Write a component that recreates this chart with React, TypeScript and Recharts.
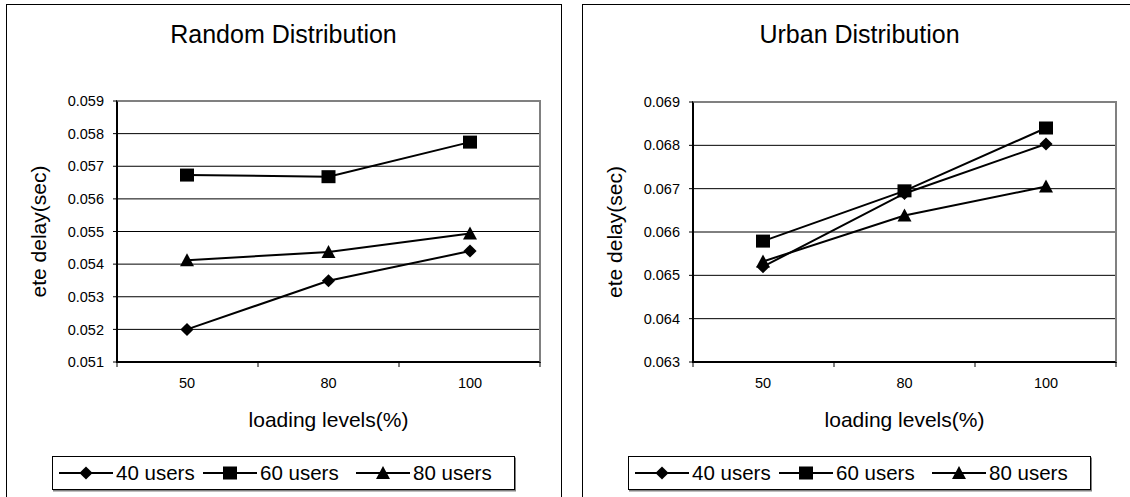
import React from 'react'
import { LineChart, Line, XAxis, YAxis, CartesianGrid } from 'recharts'

// categories and series
const loads = ['50', '80', '100']

const random40 = [0.0520, 0.05349, 0.0544]
const random60 = [0.05673, 0.05668, 0.05774]
const random80 = [0.05412, 0.05437, 0.05494]

const urban40 = [0.0652, 0.06689, 0.06803]
const urban60 = [0.06579, 0.06695, 0.0684]
const urban80 = [0.06532, 0.06638, 0.06705]

const randomTicks = [0.051, 0.052, 0.053, 0.054, 0.055, 0.056, 0.057, 0.058, 0.059]
const urbanTicks = [0.063, 0.064, 0.065, 0.066, 0.067, 0.068, 0.069]

const seriesNames = ['40 users', '60 users', '80 users']

const FONT = '"Liberation Sans", Arial, sans-serif'
const PANEL_W = 555
const CHART_H = 493
const Y_AXIS_W = 111
const M_RIGHT = 21
const M_BOTTOM = 100
const X_AXIS_H = 35

type Shape = 'diamond' | 'square' | 'triangle'

function Marker({ cx, cy, shape }: { cx: number; cy: number; shape: Shape }) {
  if (shape === 'square') {
    return <rect x={cx - 7} y={cy - 6.5} width={14} height={13} fill="#000" />
  }
  if (shape === 'triangle') {
    return <path d={`M${cx},${cy - 7} L${cx + 7},${cy + 6} L${cx - 7},${cy + 6} Z`} fill="#000" />
  }
  return <path d={`M${cx},${cy - 6.5} L${cx + 6.6},${cy} L${cx},${cy + 6.5} L${cx - 6.6},${cy} Z`} fill="#000" />
}

const dotFor = (shape: Shape) => (props: any) => {
  const { cx, cy, index } = props
  return <Marker key={`${shape}-${index}`} cx={cx} cy={cy} shape={shape} />
}

const shapes: Shape[] = ['diamond', 'square', 'triangle']

// plot frame and axis tick marks laid over the chart, from the same layout numbers
function Frame({ top, yTicks }: { top: number; yTicks: number[] }) {
  const pl = Y_AXIS_W
  const pr = PANEL_W - M_RIGHT
  const pb = CHART_H - M_BOTTOM - X_AXIS_H
  const lo = yTicks[0]
  const hi = yTicks[yTicks.length - 1]
  const yOf = (v: number) => top + ((hi - v) / (hi - lo)) * (pb - top)
  const edges = [0, 1, 2, 3].map((i) => pl + (i * (pr - pl)) / 3)
  return (
    <>
      <div
        style={{
          position: 'absolute',
          left: pl - 1,
          top: top - 1,
          width: pr - pl + 2,
          height: pb - top + 2,
          boxSizing: 'border-box',
          borderTop: '2px solid #808080',
          borderRight: '2px solid #808080',
          borderLeft: '2px solid #000',
          borderBottom: '2px solid #000',
          pointerEvents: 'none',
        }}
      />
      <svg width={PANEL_W} height={CHART_H} style={{ position: 'absolute', left: 0, top: 0, pointerEvents: 'none' }}>
        {yTicks.map((t) => (
          <line key={t} x1={pl - 4} x2={pl} y1={yOf(t)} y2={yOf(t)} stroke="#000" strokeWidth={1} />
        ))}
        {edges.map((x) => (
          <line key={x} x1={x} x2={x} y1={pb} y2={pb + 5} stroke="#000" strokeWidth={1} />
        ))}
      </svg>
    </>
  )
}

function LegendBox() {
  const lefts = [6, 150, 303]
  return (
    <div
      style={{
        position: 'absolute',
        left: 46,
        top: 451.7,
        width: 463,
        height: 34.3,
        border: '1px solid #000',
        boxShadow: '1px 1.5px 0 #808080',
        boxSizing: 'border-box',
        background: '#fff',
      }}
    >
      {seriesNames.map((name, i) => (
        <div
          key={name}
          style={{ position: 'absolute', left: lefts[i], top: 0, height: '100%', display: 'flex', alignItems: 'center' }}
        >
          <svg width={54} height={20}>
            <line x1={0} y1={10} x2={54} y2={10} stroke="#000" strokeWidth={2} />
            <Marker cx={27} cy={10} shape={shapes[i]} />
          </svg>
          <span style={{ marginLeft: 3, fontSize: 20.5, fontFamily: FONT, color: '#000', lineHeight: '20px' }}>
            {name}
          </span>
        </div>
      ))}
    </div>
  )
}

interface PanelProps {
  left: number
  title: string
  s40: number[]
  s60: number[]
  s80: number[]
  yTicks: number[]
  marginTop: number
}

function Panel({ left, title, s40, s60, s80, yTicks, marginTop }: PanelProps) {
  const data = loads.map((load, i) => ({ load, u40: s40[i], u60: s60[i], u80: s80[i] }))
  const yDomain = [yTicks[0], yTicks[yTicks.length - 1]]

  return (
    <>
      <div
        style={{
          position: 'absolute',
          left,
          top: 4,
          width: PANEL_W + 1,
          height: 600,
          border: '1.5px solid #000',
          boxSizing: 'border-box',
        }}
      />
      <div style={{ position: 'absolute', left, top: 4, width: PANEL_W, height: CHART_H }}>
        <div
          style={{
            position: 'absolute',
            left: 0,
            top: 18,
            width: PANEL_W,
            textAlign: 'center',
            fontSize: 25,
            lineHeight: '25px',
            fontFamily: FONT,
            color: '#000',
          }}
        >
          {title}
        </div>
        <div style={{ position: 'absolute', left: 0, top: 0 }}>
          <LineChart
            width={PANEL_W}
            height={CHART_H}
            data={data}
            margin={{ top: marginTop, right: M_RIGHT, bottom: M_BOTTOM, left: 0 }}
          >
            <CartesianGrid vertical={false} stroke="#000" strokeWidth={1} />
            <XAxis
              dataKey="load"
              type="category"
              height={X_AXIS_H}
              padding={{ left: 70, right: 70 }}
              axisLine={false}
              tickLine={false}
              tickSize={0}
              tickMargin={16}
              interval={0}
              tick={{ fill: '#000', fontSize: 14.5, fontFamily: FONT }}
              label={{ value: 'loading levels(%)', position: 'bottom', offset: 15, fontSize: 21, fontFamily: FONT, fill: '#000' }}
            />
            <YAxis
              type="number"
              domain={yDomain}
              ticks={yTicks}
              interval={0}
              width={Y_AXIS_W}
              axisLine={false}
              tickLine={false}
              tickSize={4}
              tickMargin={9}
              tickFormatter={(v: number) => v.toFixed(3)}
              tick={{ fill: '#000', fontSize: 14.5, fontFamily: FONT }}
              label={{
                value: 'ete delay(sec)',
                angle: -90,
                position: 'center',
                dx: -23,
                fontSize: 21,
                fontFamily: FONT,
                fill: '#000',
              }}
            />
            <Line dataKey="u40" stroke="#000" strokeWidth={2} dot={dotFor('diamond')} activeDot={false} isAnimationActive={false} />
            <Line dataKey="u60" stroke="#000" strokeWidth={2} dot={dotFor('square')} activeDot={false} isAnimationActive={false} />
            <Line dataKey="u80" stroke="#000" strokeWidth={2} dot={dotFor('triangle')} activeDot={false} isAnimationActive={false} />
          </LineChart>
        </div>
        <Frame top={marginTop} yTicks={yTicks} />
        <LegendBox />
      </div>
    </>
  )
}

export default function App() {
  return (
    <div
      style={{
        position: 'absolute',
        left: 0,
        top: 0,
        width: 1130,
        height: 497,
        overflow: 'hidden',
        background: '#fff',
      }}
    >
      <Panel left={6} title="Random Distribution" s40={random40} s60={random60} s80={random80} yTicks={randomTicks} marginTop={97} />
      <Panel left={582} title="Urban Distribution" s40={urban40} s60={urban60} s80={urban80} yTicks={urbanTicks} marginTop={98} />
    </div>
  )
}
